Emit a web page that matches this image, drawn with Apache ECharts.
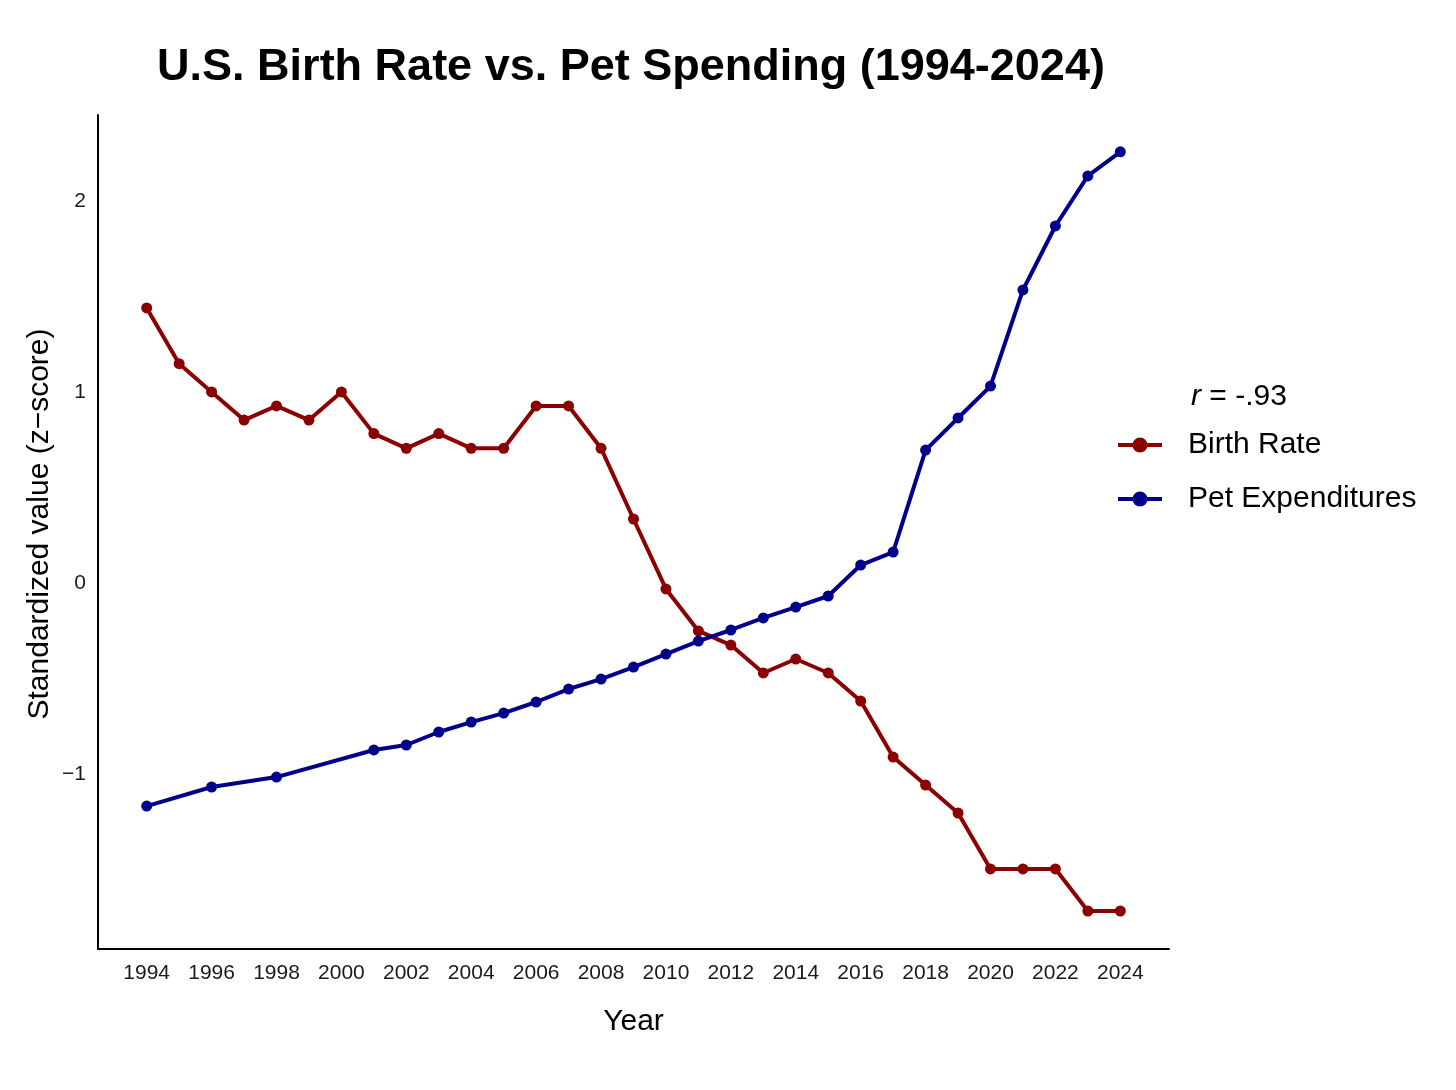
<!DOCTYPE html>
<html>
<head>
<meta charset="utf-8">
<script src="https://cdn.jsdelivr.net/npm/echarts@6/dist/echarts.min.js"></script>
<style>html,body{margin:0;padding:0;background:#fff;}#c{width:1456px;height:1090px;}</style>
</head>
<body>
<div id="c"></div>
<script>
var years = [1994,1995,1996,1997,1998,1999,2000,2001,2002,2003,2004,2005,2006,2007,2008,2009,2010,2011,2012,2013,2014,2015,2016,2017,2018,2019,2020,2021,2022,2023,2024];
var birthRate = [1.44,1.148,1.0,0.853,0.927,0.853,1.0,0.782,0.705,0.782,0.705,0.705,0.927,0.927,0.705,0.335,-0.031,-0.251,-0.325,-0.471,-0.398,-0.471,-0.618,-0.911,-1.058,-1.204,-1.497,-1.497,-1.497,-1.717,-1.717];
var petYears = [1994,1996,1998,2001,2002,2003,2004,2005,2006,2007,2008,2009,2010,2011,2012,2013,2014,2015,2016,2017,2018,2019,2020,2021,2022,2023,2024];
var petExp = [-1.168,-1.068,-1.016,-0.874,-0.848,-0.780,-0.728,-0.681,-0.623,-0.555,-0.503,-0.440,-0.372,-0.304,-0.246,-0.183,-0.126,-0.068,0.094,0.162,0.696,0.864,1.031,1.534,1.869,2.131,2.257];
var xTicks = [1994,1996,1998,2000,2002,2004,2006,2008,2010,2012,2014,2016,2018,2020,2022,2024];
var yTicks = [-1,0,1,2];
var seriesNames = ['Birth Rate','Pet Expenditures'];
var corrLabel = '= -.93';

var FONT = 'Liberation Sans';
var chart = echarts.init(document.getElementById('c'));
function pairs(xs, ys){ return xs.map(function(x,i){ return [x, ys[i]]; }); }
chart.setOption({
  backgroundColor:'#fff',
  animation:false,
  textStyle:{fontFamily:FONT},
  title:{
    text:'U.S. Birth Rate vs. Pet Spending (1994-2024)',
    left:626, top:40, textAlign:'center',
    textStyle:{fontFamily:FONT,fontWeight:'bold',fontSize:45,color:'#000'}
  },
  graphic:[{
    type:'text', left:1191, top:382,
    style:{
      text:'{i|r} ' + corrLabel,
      rich:{i:{fontStyle:'italic',fontSize:30,fontFamily:FONT,fill:'#000'}},
      fontSize:30, fontFamily:FONT, fill:'#000'
    }
  }],
  legend:{
    orient:'vertical', left:1116, top:430, padding:0,
    itemWidth:44, itemHeight:19, itemGap:24,
    lineStyle:{width:4},
    textStyle:{fontSize:30,color:'#000',fontFamily:FONT,padding:[0,0,0,21]},
    data:seriesNames
  },
  grid:{left:98,right:287,top:115,bottom:141,containLabel:false},
  xAxis:{
    type:'value', min:1992.5, max:2025.5,
    name:'Year', nameLocation:'middle', nameGap:58, nameMoveOverlap:false,
    nameTextStyle:{fontSize:30,color:'#000',fontFamily:FONT},
    axisLine:{show:true,onZero:false,lineStyle:{color:'#000',width:2}},
    axisTick:{show:false},
    splitLine:{show:false},
    axisLabel:{customValues:xTicks,fontSize:21,color:'#1a1a1a',margin:14,fontFamily:FONT,
      formatter:function(v){return String(v);}}
  },
  yAxis:{
    type:'value', min:-1.916, max:2.45,
    name:'Standardized value (z\u2212score)', nameLocation:'middle', nameGap:43, nameMoveOverlap:false,
    nameTextStyle:{fontSize:30,color:'#000',fontFamily:FONT,padding:[0,0,0,16]},
    axisLine:{show:true,onZero:false,lineStyle:{color:'#000',width:2}},
    axisTick:{show:false},
    splitLine:{show:false},
    axisLabel:{customValues:yTicks,fontSize:21,color:'#1a1a1a',margin:12,fontFamily:FONT,
      formatter:function(v){return String(v).replace('-','\u2212');}}
  },
  series:[
    {name:seriesNames[0],type:'line',data:pairs(years,birthRate),
     symbol:'circle',symbolSize:11,
     lineStyle:{color:'#8B0000',width:4},itemStyle:{color:'#8B0000'}},
    {name:seriesNames[1],type:'line',data:pairs(petYears,petExp),
     symbol:'circle',symbolSize:11,
     lineStyle:{color:'#00008B',width:4},itemStyle:{color:'#00008B'}}
  ]
});
</script>
</body>
</html>
